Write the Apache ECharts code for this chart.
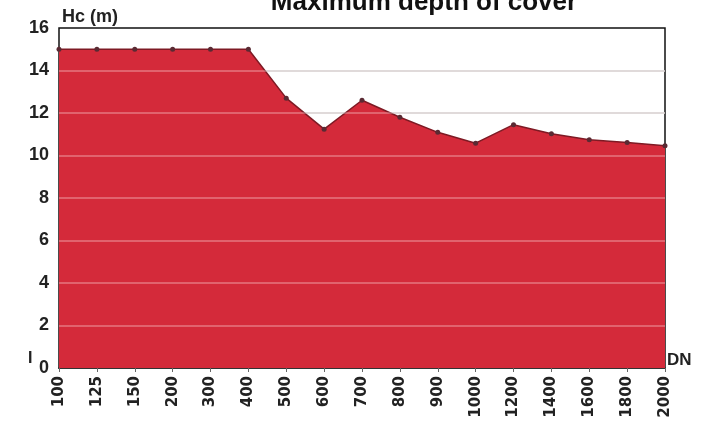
<!DOCTYPE html>
<html>
<head>
<meta charset="utf-8">
<script src="https://cdn.jsdelivr.net/npm/echarts@6/dist/echarts.min.js"></script>
<style>
html,body{margin:0;padding:0;background:#fff;}
#c{width:705px;height:423px;}
</style>
</head>
<body>
<div id="c"></div>
<script>
const categories = ['100','125','150','200','300','400','500','600','700','800','900','1000','1200','1400','1600','1800','2000'];
const depthValues = [15, 15, 15, 15, 15, 15, 12.7, 11.24, 12.6, 11.8, 11.09, 10.58, 11.45, 11.02, 10.74, 10.61, 10.46];
const yTicks = {min: 0, max: 16, interval: 2};
const gridValues = [2, 4, 6, 8, 10, 12, 14];
const titleText = 'Maximum depth of cover';
const yName = 'Hc (m)';
const xName = 'DN';

const chart = echarts.init(document.getElementById('c'), null, {renderer: 'canvas'});
const font = 'Liberation Sans, Arial, sans-serif';
chart.setOption({
  animation: false,
  backgroundColor: '#fff',
  title: {
    text: titleText,
    left: 419, textAlign: 'center', top: -15,
    textStyle: {fontFamily: font, fontWeight: 'bold', fontSize: 26, color: '#111'}
  },
  grid: {
    left: 59, right: 40, top: 28, bottom: 55,
    show: true, borderColor: '#111', borderWidth: 1.5, backgroundColor: 'transparent'
  },
  xAxis: {
    type: 'category',
    data: categories,
    boundaryGap: false,
    axisLine: {show: true, lineStyle: {color: '#333', width: 2}},
    axisTick: {show: true, alignWithLabel: true, length: 4, lineStyle: {color: '#666', width: 1}},
    axisLabel: {
      rotate: 90, interval: 0, margin: 8,
      fontFamily: 'DejaVu Sans', fontWeight: 'bold', fontSize: 15, color: '#222'
    },
    splitLine: {show: false}
  },
  yAxis: {
    type: 'value',
    min: yTicks.min, max: yTicks.max, interval: yTicks.interval,
    axisLine: {show: false},
    axisTick: {show: false},
    axisLabel: {margin: 10, fontFamily: font, fontWeight: 'bold', fontSize: 18, color: '#222'},
    splitLine: {show: true, showMaxLine: false, showMinLine: false, lineStyle: {color: '#c4c4c4', width: 1.5}}
  },
  graphic: [
    {type: 'text', left: 62, top: 8, style: {text: yName, font: 'bold 18px ' + font, fill: '#222'}},
    {type: 'text', left: 667, top: 352, style: {text: xName, font: 'bold 17px ' + font, fill: '#222'}},
    {type: 'text', left: 28, top: 351, style: {text: 'I', font: 'bold 16px ' + font, fill: '#222'}}
  ],
  series: [{
    type: 'line',
    data: depthValues,
    smooth: false,
    symbol: 'circle',
    symbolSize: 5,
    itemStyle: {color: '#5a2a33'},
    lineStyle: {color: '#7e1a24', width: 1.5},
    areaStyle: {color: '#d42a3a', opacity: 1},
    markLine: {
      silent: true,
      symbol: 'none',
      label: {show: false},
      lineStyle: {color: 'rgba(255,235,235,0.4)', width: 1.5, type: 'solid'},
      data: gridValues.map(v => ({yAxis: v}))
    }
  }]
});
</script>
</body>
</html>
